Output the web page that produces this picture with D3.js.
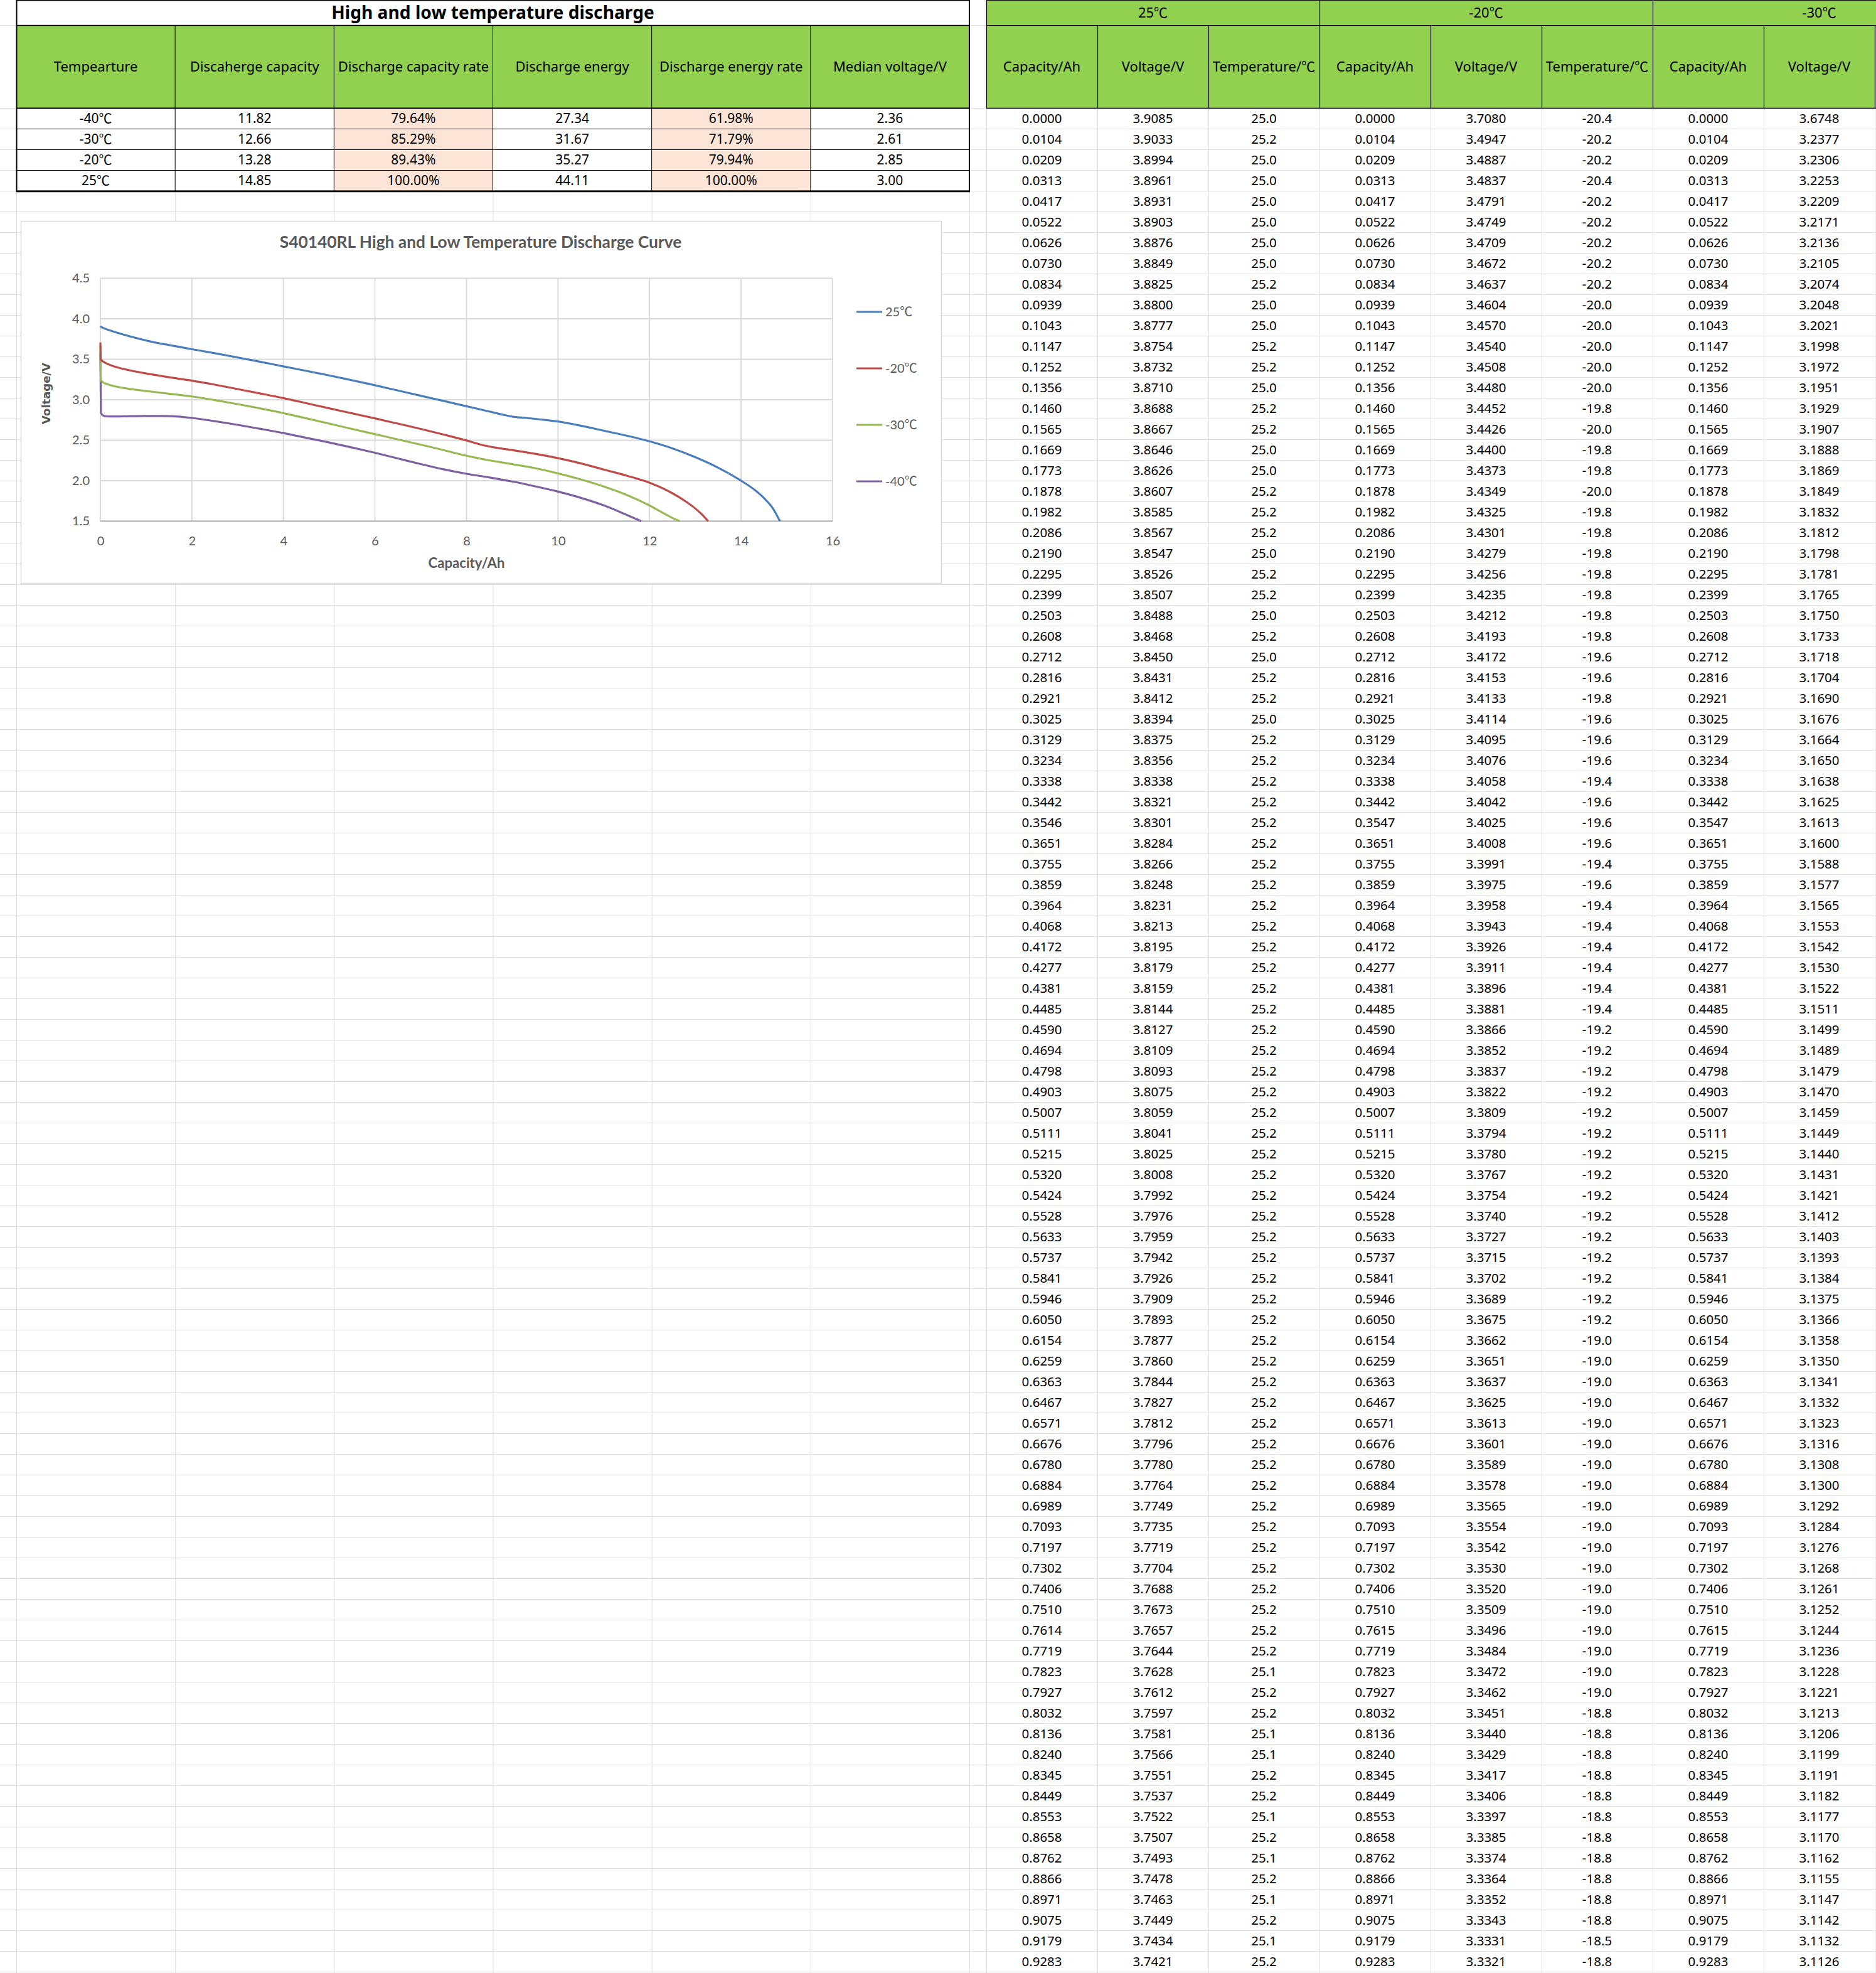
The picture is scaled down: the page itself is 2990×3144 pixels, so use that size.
<!DOCTYPE html>
<html><head><meta charset="utf-8">
<script src="https://cdn.jsdelivr.net/npm/d3@7"></script>
<style>html,body{margin:0;padding:0;background:#fff}svg{display:block}</style>
</head><body>
<svg id="c" width="2990" height="3144"></svg>
<script>
// ---------- summary table ----------
const summaryTitle = "High and low temperature discharge";
const summaryHeaders = ["Tempearture","Discaherge capacity","Discharge capacity rate","Discharge energy","Discharge energy rate","Median voltage/V"];
const summaryTemps = ["-40℃","-30℃","-20℃","25℃"];
const summaryCapacity = ["11.82","12.66","13.28","14.85"];
const summaryCapacityRate = ["79.64%","85.29%","89.43%","100.00%"];
const summaryEnergy = ["27.34","31.67","35.27","44.11"];
const summaryEnergyRate = ["61.98%","71.79%","79.94%","100.00%"];
const summaryMedianV = ["2.36","2.61","2.85","3.00"];

// ---------- raw data table ----------
const groupLabels = ["25℃","-20℃","-30℃"];
const rawHeaders = ["Capacity/Ah","Voltage/V","Temperature/℃","Capacity/Ah","Voltage/V","Temperature/℃","Capacity/Ah","Voltage/V"];
const cap25 = [0.0000,0.0104,0.0209,0.0313,0.0417,0.0522,0.0626,0.0730,0.0834,0.0939,0.1043,0.1147,0.1252,0.1356,0.1460,0.1565,0.1669,0.1773,0.1878,0.1982,0.2086,0.2190,0.2295,0.2399,0.2503,0.2608,0.2712,0.2816,0.2921,0.3025,0.3129,0.3234,0.3338,0.3442,0.3546,0.3651,0.3755,0.3859,0.3964,0.4068,0.4172,0.4277,0.4381,0.4485,0.4590,0.4694,0.4798,0.4903,0.5007,0.5111,0.5215,0.5320,0.5424,0.5528,0.5633,0.5737,0.5841,0.5946,0.6050,0.6154,0.6259,0.6363,0.6467,0.6571,0.6676,0.6780,0.6884,0.6989,0.7093,0.7197,0.7302,0.7406,0.7510,0.7614,0.7719,0.7823,0.7927,0.8032,0.8136,0.8240,0.8345,0.8449,0.8553,0.8658,0.8762,0.8866,0.8971,0.9075,0.9179,0.9283];
const capLow = [0.0000,0.0104,0.0209,0.0313,0.0417,0.0522,0.0626,0.0730,0.0834,0.0939,0.1043,0.1147,0.1252,0.1356,0.1460,0.1565,0.1669,0.1773,0.1878,0.1982,0.2086,0.2190,0.2295,0.2399,0.2503,0.2608,0.2712,0.2816,0.2921,0.3025,0.3129,0.3234,0.3338,0.3442,0.3547,0.3651,0.3755,0.3859,0.3964,0.4068,0.4172,0.4277,0.4381,0.4485,0.4590,0.4694,0.4798,0.4903,0.5007,0.5111,0.5215,0.5320,0.5424,0.5528,0.5633,0.5737,0.5841,0.5946,0.6050,0.6154,0.6259,0.6363,0.6467,0.6571,0.6676,0.6780,0.6884,0.6989,0.7093,0.7197,0.7302,0.7406,0.7510,0.7615,0.7719,0.7823,0.7927,0.8032,0.8136,0.8240,0.8345,0.8449,0.8553,0.8658,0.8762,0.8866,0.8971,0.9075,0.9179,0.9283];
const volt25 = [3.9085,3.9033,3.8994,3.8961,3.8931,3.8903,3.8876,3.8849,3.8825,3.8800,3.8777,3.8754,3.8732,3.8710,3.8688,3.8667,3.8646,3.8626,3.8607,3.8585,3.8567,3.8547,3.8526,3.8507,3.8488,3.8468,3.8450,3.8431,3.8412,3.8394,3.8375,3.8356,3.8338,3.8321,3.8301,3.8284,3.8266,3.8248,3.8231,3.8213,3.8195,3.8179,3.8159,3.8144,3.8127,3.8109,3.8093,3.8075,3.8059,3.8041,3.8025,3.8008,3.7992,3.7976,3.7959,3.7942,3.7926,3.7909,3.7893,3.7877,3.7860,3.7844,3.7827,3.7812,3.7796,3.7780,3.7764,3.7749,3.7735,3.7719,3.7704,3.7688,3.7673,3.7657,3.7644,3.7628,3.7612,3.7597,3.7581,3.7566,3.7551,3.7537,3.7522,3.7507,3.7493,3.7478,3.7463,3.7449,3.7434,3.7421];
const temp25 = [25.0,25.2,25.0,25.0,25.0,25.0,25.0,25.0,25.2,25.0,25.0,25.2,25.2,25.0,25.2,25.2,25.0,25.0,25.2,25.2,25.2,25.0,25.2,25.2,25.0,25.2,25.0,25.2,25.2,25.0,25.2,25.2,25.2,25.2,25.2,25.2,25.2,25.2,25.2,25.2,25.2,25.2,25.2,25.2,25.2,25.2,25.2,25.2,25.2,25.2,25.2,25.2,25.2,25.2,25.2,25.2,25.2,25.2,25.2,25.2,25.2,25.2,25.2,25.2,25.2,25.2,25.2,25.2,25.2,25.2,25.2,25.2,25.2,25.2,25.2,25.1,25.2,25.2,25.1,25.1,25.2,25.2,25.1,25.2,25.1,25.2,25.1,25.2,25.1,25.2];
const volt20 = [3.7080,3.4947,3.4887,3.4837,3.4791,3.4749,3.4709,3.4672,3.4637,3.4604,3.4570,3.4540,3.4508,3.4480,3.4452,3.4426,3.4400,3.4373,3.4349,3.4325,3.4301,3.4279,3.4256,3.4235,3.4212,3.4193,3.4172,3.4153,3.4133,3.4114,3.4095,3.4076,3.4058,3.4042,3.4025,3.4008,3.3991,3.3975,3.3958,3.3943,3.3926,3.3911,3.3896,3.3881,3.3866,3.3852,3.3837,3.3822,3.3809,3.3794,3.3780,3.3767,3.3754,3.3740,3.3727,3.3715,3.3702,3.3689,3.3675,3.3662,3.3651,3.3637,3.3625,3.3613,3.3601,3.3589,3.3578,3.3565,3.3554,3.3542,3.3530,3.3520,3.3509,3.3496,3.3484,3.3472,3.3462,3.3451,3.3440,3.3429,3.3417,3.3406,3.3397,3.3385,3.3374,3.3364,3.3352,3.3343,3.3331,3.3321];
const temp20 = [-20.4,-20.2,-20.2,-20.4,-20.2,-20.2,-20.2,-20.2,-20.2,-20.0,-20.0,-20.0,-20.0,-20.0,-19.8,-20.0,-19.8,-19.8,-20.0,-19.8,-19.8,-19.8,-19.8,-19.8,-19.8,-19.8,-19.6,-19.6,-19.8,-19.6,-19.6,-19.6,-19.4,-19.6,-19.6,-19.6,-19.4,-19.6,-19.4,-19.4,-19.4,-19.4,-19.4,-19.4,-19.2,-19.2,-19.2,-19.2,-19.2,-19.2,-19.2,-19.2,-19.2,-19.2,-19.2,-19.2,-19.2,-19.2,-19.2,-19.0,-19.0,-19.0,-19.0,-19.0,-19.0,-19.0,-19.0,-19.0,-19.0,-19.0,-19.0,-19.0,-19.0,-19.0,-19.0,-19.0,-19.0,-18.8,-18.8,-18.8,-18.8,-18.8,-18.8,-18.8,-18.8,-18.8,-18.8,-18.8,-18.5,-18.8];
const volt30 = [3.6748,3.2377,3.2306,3.2253,3.2209,3.2171,3.2136,3.2105,3.2074,3.2048,3.2021,3.1998,3.1972,3.1951,3.1929,3.1907,3.1888,3.1869,3.1849,3.1832,3.1812,3.1798,3.1781,3.1765,3.1750,3.1733,3.1718,3.1704,3.1690,3.1676,3.1664,3.1650,3.1638,3.1625,3.1613,3.1600,3.1588,3.1577,3.1565,3.1553,3.1542,3.1530,3.1522,3.1511,3.1499,3.1489,3.1479,3.1470,3.1459,3.1449,3.1440,3.1431,3.1421,3.1412,3.1403,3.1393,3.1384,3.1375,3.1366,3.1358,3.1350,3.1341,3.1332,3.1323,3.1316,3.1308,3.1300,3.1292,3.1284,3.1276,3.1268,3.1261,3.1252,3.1244,3.1236,3.1228,3.1221,3.1213,3.1206,3.1199,3.1191,3.1182,3.1177,3.1170,3.1162,3.1155,3.1147,3.1142,3.1132,3.1126];

// ---------- chart curve continuation ----------
const tail25 = [[1.0,3.732],[1.5,3.675],[2,3.624],[2.5,3.575],[3,3.522],[3.5,3.468],[4,3.412],[4.5,3.357],[5,3.300],[5.5,3.240],[6,3.179],[6.5,3.114],[7,3.049],[7.5,2.985],[8,2.920],[8.5,2.855],[8.8,2.815],[9,2.792],[9.3,2.775],[9.6,2.758],[10,2.731],[10.5,2.679],[11,2.618],[11.5,2.556],[12,2.487],[12.5,2.400],[13,2.290],[13.5,2.160],[14,2.000],[14.3,1.885],[14.5,1.785],[14.7,1.655],[14.85,1.500]];
const tail20 = [[1.0,3.325],[1.5,3.278],[2,3.236],[2.5,3.186],[3,3.132],[3.5,3.077],[4,3.020],[4.5,2.957],[5,2.894],[5.5,2.832],[6,2.770],[6.5,2.705],[7,2.640],[7.5,2.570],[8,2.497],[8.3,2.448],[8.6,2.412],[9,2.378],[9.5,2.332],[10,2.278],[10.5,2.214],[11,2.138],[11.5,2.062],[12,1.975],[12.5,1.845],[12.8,1.740],[13,1.656],[13.15,1.580],[13.28,1.500]];
const tail30 = [[1.0,3.108],[1.5,3.075],[2,3.041],[2.5,2.995],[3,2.946],[3.5,2.892],[4,2.834],[4.5,2.770],[5,2.705],[5.5,2.640],[6,2.575],[6.5,2.510],[7,2.446],[7.5,2.378],[8,2.308],[8.5,2.252],[9,2.205],[9.5,2.155],[10,2.090],[10.5,2.015],[11,1.928],[11.5,1.824],[12,1.694],[12.3,1.600],[12.5,1.540],[12.66,1.500]];
const curve40 = [[0,3.57],[0.0104,2.85],[0.03,2.82],[0.08,2.80],[0.2,2.793],[0.5,2.795],[1.0,2.800],[1.5,2.797],[2,2.775],[2.5,2.735],[3,2.690],[3.5,2.640],[4,2.588],[4.5,2.530],[5,2.472],[5.5,2.410],[6,2.345],[6.5,2.275],[7,2.205],[7.5,2.140],[8,2.085],[8.5,2.040],[9,1.990],[9.5,1.930],[10,1.865],[10.5,1.788],[11,1.695],[11.5,1.578],[11.82,1.500]];
const seriesNames = ["25℃","-20℃","-30℃","-40℃"];
const seriesColors = ["#4A7EBB","#BE4B48","#98B954","#7D60A0"];
const xTicks = [0,2,4,6,8,10,12,14,16];
const yTicks = [1.5,2.0,2.5,3.0,3.5,4.0,4.5];
const chartTitle = "S40140RL High and Low Temperature Discharge Curve";
const xTitle = "Capacity/Ah";
const yTitle = "Voltage/V";

// ---------- drawing ----------
const svg = d3.select("#c");
const W = 2990, H = 3144, ROW = 33;
const FONT = "'Noto Sans', 'Noto Sans CJK SC', sans-serif";
const CFONT = "Lato, 'Noto Sans CJK SC', sans-serif";
const CJK = "'Noto Sans CJK SC', sans-serif";
const GREEN = "#92D050", PEACH = "#FCE4D6", GRID = "#dedede";

// write text, putting the ℃ sign in a CJK (full-width) font like the original
function degText(sel) {
  sel.each(function (d) {
    const t = d3.select(this);
    const s = String(d);
    const k = s.indexOf("℃");
    if (k < 0) { t.text(s); return; }
    t.text(null);
    t.append("tspan").text(s.slice(0, k));
    t.append("tspan").attr("font-family", CJK).text("℃");
    if (k + 1 < s.length) t.append("tspan").text(s.slice(k + 1));
  });
}

const leftCols = d3.scaleBand().domain(d3.range(6)).range([26, 1545]);
const leftRows = d3.scaleBand().domain(d3.range(4)).range([172, 172 + 4 * ROW]);
const rightCols = d3.scaleBand().domain(d3.range(8)).range([1572, 2988]);
const dataRows = d3.scaleBand().domain(d3.range(cap25.length)).range([172, 172 + cap25.length * ROW]);

function fit(sel, w) {
  const l = sel.node().getComputedTextLength();
  const fs = parseFloat(sel.attr("font-size"));
  if (l > 0) sel.attr("font-size", fs * w / l);
  return sel;
}

// sheet grid
const gGrid = svg.append("g").attr("stroke", GRID).attr("stroke-width", 1);
const hLines = [40].concat(d3.range(0, Math.ceil((H - 172) / ROW) + 1).map(k => 172 + k * ROW));
gGrid.selectAll("line.h").data(hLines).join("line").attr("class", "h")
  .attr("x1", 0).attr("x2", W).attr("y1", d => d + 0.5).attr("y2", d => d + 0.5);
const vLines = d3.range(7).map(i => leftCols(0) + i * leftCols.step())
  .concat(d3.range(9).map(i => rightCols(0) + i * rightCols.step()));
gGrid.selectAll("line.v").data(vLines).join("line").attr("class", "v")
  .attr("y1", 0).attr("y2", H).attr("x1", d => d + 0.5).attr("x2", d => d + 0.5);

// ---------- left summary table ----------
const gL = svg.append("g");
const LX0 = leftCols(0), LX1 = leftCols(5) + leftCols.step();
gL.append("rect").attr("x", LX0).attr("y", 0).attr("width", LX1 - LX0).attr("height", 40).attr("fill", "#fff");
gL.append("rect").attr("x", LX0).attr("y", 40).attr("width", LX1 - LX0).attr("height", 132).attr("fill", GREEN);
const summaryCols = [summaryTemps, summaryCapacity, summaryCapacityRate, summaryEnergy, summaryEnergyRate, summaryMedianV];
summaryCols.forEach((col, ci) => {
  gL.selectAll(null).data(col).join("rect")
    .attr("x", leftCols(ci)).attr("y", (d, i) => leftRows(i))
    .attr("width", leftCols.step()).attr("height", ROW)
    .attr("fill", (ci === 2 || ci === 4) ? PEACH : "#fff");
  gL.selectAll(null).data(col).join("text")
    .attr("x", leftCols(ci) + leftCols.step() / 2).attr("y", (d, i) => leftRows(i) + ROW / 2 + 7.5)
    .attr("text-anchor", "middle").attr("font-family", FONT).attr("font-size", 21).attr("fill", "#000")
    .call(degText);
});
gL.selectAll("text.hd").data(summaryHeaders).join("text").attr("class", "hd")
  .attr("x", (d, i) => leftCols(i) + leftCols.step() / 2).attr("y", 114)
  .attr("text-anchor", "middle").attr("font-family", FONT).attr("font-size", 22).attr("fill", "#000")
  .text(d => d);
fit(gL.append("text").attr("x", (LX0 + LX1) / 2).attr("y", 30).attr("text-anchor", "middle")
  .attr("font-family", FONT).attr("font-weight", "bold").attr("font-size", 28).attr("fill", "#000")
  .text(summaryTitle), 515);
// borders
const gLB = gL.append("g").attr("stroke", "#000");
gLB.selectAll("line.iv").data(d3.range(1, 6)).join("line").attr("class", "iv")
  .attr("x1", i => leftCols(i)).attr("x2", i => leftCols(i)).attr("y1", 40).attr("y2", 304).attr("stroke-width", 1);
gLB.selectAll("line.ih").data([205, 238, 271]).join("line").attr("class", "ih")
  .attr("x1", LX0).attr("x2", LX1).attr("y1", d => d + 0.5).attr("y2", d => d + 0.5).attr("stroke-width", 1.2);
gLB.append("line").attr("x1", LX0).attr("x2", LX1).attr("y1", 40.5).attr("y2", 40.5).attr("stroke-width", 1.6);
gLB.append("line").attr("x1", LX0).attr("x2", LX1).attr("y1", 172.5).attr("y2", 172.5).attr("stroke-width", 1.8);
gLB.append("rect").attr("x", LX0 + 0.5).attr("y", 0.5).attr("width", LX1 - LX0 - 0.5).attr("height", 304)
  .attr("fill", "none").attr("stroke-width", 2);
gLB.append("line").attr("x1", LX0).attr("x2", LX1 + 1).attr("y1", 305).attr("y2", 305).attr("stroke-width", 2.4);

// ---------- right raw data table ----------
const gR = svg.append("g");
gR.append("rect").attr("x", rightCols(0)).attr("y", 0).attr("width", W - rightCols(0)).attr("height", 172).attr("fill", GREEN);
gR.selectAll("text.grp").data(groupLabels).join("text").attr("class", "grp")
  .attr("x", (d, i) => rightCols(0) + rightCols.step() * (3 * i + 1.5)).attr("y", 28)
  .attr("text-anchor", "middle").attr("font-family", FONT).attr("font-size", 22).attr("fill", "#000")
  .call(degText);
gR.selectAll("text.rh").data(rawHeaders).join("text").attr("class", "rh")
  .attr("x", (d, i) => rightCols(i) + rightCols.step() / 2).attr("y", 114)
  .attr("text-anchor", "middle").attr("font-family", FONT).attr("font-size", 22).attr("fill", "#000")
  .call(degText);
const rawCols = [
  cap25.map(v => v.toFixed(4)), volt25.map(v => v.toFixed(4)), temp25.map(v => v.toFixed(1)),
  capLow.map(v => v.toFixed(4)), volt20.map(v => v.toFixed(4)), temp20.map(v => v.toFixed(1)),
  capLow.map(v => v.toFixed(4)), volt30.map(v => v.toFixed(4))
];
rawCols.forEach((col, ci) => {
  gR.selectAll(null).data(col).join("text")
    .attr("x", rightCols(ci) + rightCols.step() / 2).attr("y", (d, i) => dataRows(i) + ROW / 2 + 7.3)
    .attr("text-anchor", "middle").attr("font-family", FONT).attr("font-size", 20.5).attr("fill", "#000")
    .text(d => d);
});
const gRB = gR.append("g").attr("stroke", "#000");
gRB.append("line").attr("x1", rightCols(0)).attr("x2", W).attr("y1", 0.5).attr("y2", 0.5).attr("stroke-width", 1.2);
gRB.append("line").attr("x1", rightCols(0)).attr("x2", W).attr("y1", 40.5).attr("y2", 40.5).attr("stroke-width", 1.2);
gRB.append("line").attr("x1", rightCols(0)).attr("x2", W).attr("y1", 172.5).attr("y2", 172.5).attr("stroke-width", 1.6);
gRB.selectAll("line.cv").data(d3.range(0, 9)).join("line").attr("class", "cv")
  .attr("x1", i => rightCols(0) + i * rightCols.step() + 0.5).attr("x2", i => rightCols(0) + i * rightCols.step() + 0.5)
  .attr("y1", i => (i === 0 || i === 3 || i === 6) ? 0 : 40).attr("y2", 172).attr("stroke-width", 1.2);

// ---------- chart ----------
const gC = svg.append("g");
gC.append("rect").attr("x", 33.5).attr("y", 352.5).attr("width", 1467).attr("height", 577)
  .attr("fill", "#fff").attr("stroke", "#d9d9d9").attr("stroke-width", 1.5);
const x = d3.scaleLinear().domain([0, 16]).range([160, 1327]);
const y = d3.scaleLinear().domain([1.5, 4.5]).range([830.5, 443.5]);
const TXT = "#595959";
gC.selectAll("line.gy").data(yTicks).join("line").attr("class", "gy")
  .attr("x1", x(0)).attr("x2", x(16)).attr("y1", d => y(d)).attr("y2", d => y(d))
  .attr("stroke", "#d9d9d9").attr("stroke-width", 1.8);
gC.selectAll("line.gx").data(xTicks).join("line").attr("class", "gx")
  .attr("x1", d => x(d)).attr("x2", d => x(d)).attr("y1", y(4.5)).attr("y2", y(1.5))
  .attr("stroke", "#d9d9d9").attr("stroke-width", 1.8);
gC.append("line").attr("x1", x(0)).attr("x2", x(16)).attr("y1", y(1.5)).attr("y2", y(1.5))
  .attr("stroke", "#bfbfbf").attr("stroke-width", 2.4);
const yAxis = gC.append("g").attr("transform", `translate(${x(0)},0)`)
  .call(d3.axisLeft(y).tickValues(yTicks).tickFormat(d3.format(".1f")).tickSize(0).tickPadding(17));
yAxis.select(".domain").remove();
yAxis.selectAll("text").attr("font-family", CFONT).attr("font-size", 20).attr("fill", TXT);
const xAxis = gC.append("g").attr("transform", `translate(0,${y(1.5)})`)
  .call(d3.axisBottom(x).tickValues(xTicks).tickFormat(d3.format("d")).tickSize(0).tickPadding(24));
xAxis.select(".domain").remove();
xAxis.selectAll("text").attr("font-family", CFONT).attr("font-size", 20).attr("fill", TXT);
fit(gC.append("text").attr("x", 766).attr("y", 395).attr("text-anchor", "middle")
  .attr("font-family", CFONT).attr("font-weight", "bold").attr("font-size", 24).attr("fill", TXT).text(chartTitle), 641);
fit(gC.append("text").attr("x", (x(0) + x(16)) / 2).attr("y", 905).attr("text-anchor", "middle")
  .attr("font-family", CFONT).attr("font-weight", "bold").attr("font-size", 20).attr("fill", TXT).text(xTitle), 122);
fit(gC.append("text").attr("transform", "translate(80,627) rotate(-90)").attr("text-anchor", "middle")
  .attr("font-family", "'DejaVu Sans', sans-serif").attr("font-weight", "bold").attr("font-size", 15).attr("fill", TXT).text(yTitle), 98);
const series = [
  cap25.map((c, i) => [c, volt25[i]]).concat(tail25),
  capLow.map((c, i) => [c, volt20[i]]).concat(tail20),
  capLow.map((c, i) => [c, volt30[i]]).concat(tail30),
  curve40
];
const line = d3.line().x(d => x(d[0])).y(d => y(d[1])).curve(d3.curveMonotoneX);
gC.selectAll("path.s").data(series.slice().reverse()).join("path").attr("class", "s")
  .attr("d", line).attr("fill", "none")
  .attr("stroke", (d, i) => seriesColors[3 - i]).attr("stroke-width", 3.2).attr("stroke-linejoin", "round");
const legY = d3.scalePoint().domain(seriesNames).range([497, 767]);
const leg = gC.selectAll("g.leg").data(seriesNames).join("g").attr("class", "leg")
  .attr("transform", d => `translate(0,${legY(d)})`);
leg.append("line").attr("x1", 1365).attr("x2", 1406).attr("y1", 0).attr("y2", 0)
  .attr("stroke", (d, i) => seriesColors[i]).attr("stroke-width", 3.2);
leg.append("text").attr("x", 1411).attr("y", 7).attr("font-family", CFONT).attr("font-size", 20)
  .attr("fill", TXT).call(degText);
</script>
</body></html>
